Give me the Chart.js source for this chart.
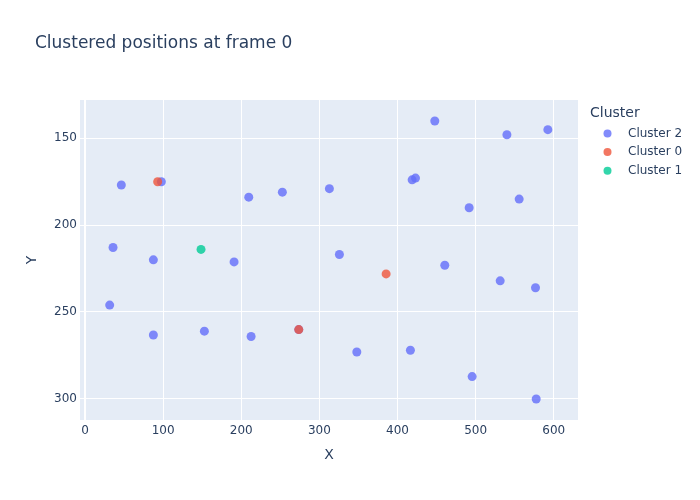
<!DOCTYPE html>
<html>
<head>
<meta charset="utf-8">
<script src="https://cdn.jsdelivr.net/npm/chart.js@4/dist/chart.umd.min.js"></script>
<style>
  html, body { margin: 0; padding: 0; background: #fff; }
  #wrap { width: 700px; height: 500px; position: relative; }
</style>
</head>
<body>
<div id="wrap"><canvas id="c" width="700" height="500"></canvas></div>
<script>
// ---- Data ----
const seriesNames = ["Cluster 2", "Cluster 0", "Cluster 1"];
const seriesColors = ["rgba(99,110,250,0.8)", "rgba(239,85,59,0.8)", "rgba(0,204,150,0.8)"];

const cluster2X = [46.5, 97.7, 209.6, 252.6, 35.9, 87.5, 190.8,
                   447.7, 540, 592.4, 312.8, 418.7, 423, 491.7, 555.7, 325.6,
                   31.6, 87.5, 152.8, 212.6, 273.6,
                   460.5, 531.4, 576.6, 347.9, 416.5, 495.5, 577.5];
const cluster2Y = [176.9, 175, 183.9, 181, 212.9, 220, 221.2,
                   140, 147.9, 145, 179, 173.9, 172.9, 190, 185, 216.9,
                   246.1, 263.3, 261.1, 264.2, 260.2,
                   223.1, 232.1, 236.1, 273.1, 272.1, 287.3, 300.2];
const cluster0X = [93, 273.6, 385.4];
const cluster0Y = [175, 260.2, 228.1];
const cluster1X = [148.5];
const cluster1Y = [214];

const xTicks = [0, 100, 200, 300, 400, 500, 600];
const yTicks = [150, 200, 250, 300];

const titleText = "Clustered positions at frame 0";
const xTitle = "X";
const yTitle = "Y";
const legendTitle = "Cluster";

const FONT = '"DejaVu Sans", Verdana, sans-serif';
const TXT = '#2a3f5f';

function pts(xs, ys) { return xs.map((x, i) => ({ x: x, y: ys[i] })); }
const allX = [cluster2X, cluster0X, cluster1X];
const allY = [cluster2Y, cluster0Y, cluster1Y];

const datasets = seriesNames.map((name, i) => ({
  label: name,
  data: pts(allX[i], allY[i]),
  backgroundColor: seriesColors[i],
  borderWidth: 0,
  pointRadius: 4.5,
  pointHoverRadius: 4.5,
  order: 3 - i
}));

const decor = {
  id: 'decor',
  beforeDraw(chart) {
    const ctx = chart.ctx, a = chart.chartArea;
    ctx.save();
    ctx.fillStyle = '#E5ECF6';
    ctx.fillRect(a.left, a.top, a.right - a.left, a.bottom - a.top);
    ctx.restore();
  },
  afterDraw(chart) {
    const ctx = chart.ctx;
    ctx.save();
    ctx.fillStyle = TXT;
    ctx.textBaseline = 'middle';
    // title
    ctx.font = '17px ' + FONT;
    ctx.textAlign = 'left';
    ctx.fillText(titleText, 35, 44);
    // axis titles
    ctx.font = '14px ' + FONT;
    ctx.textAlign = 'center';
    ctx.fillText(xTitle, 329, 455);
    ctx.save();
    ctx.translate(32, 260);
    ctx.rotate(-Math.PI / 2);
    ctx.fillText(yTitle, 0, 0);
    ctx.restore();
    // legend
    ctx.textAlign = 'left';
    ctx.font = '14px ' + FONT;
    ctx.fillText(legendTitle, 590, 113);
    ctx.font = '12px ' + FONT;
    seriesNames.forEach((n, i) => {
      const y = 133.5 + i * 18.6;
      ctx.beginPath();
      ctx.fillStyle = seriesColors[i];
      ctx.arc(607.5, y, 4, 0, Math.PI * 2);
      ctx.fill();
      ctx.fillStyle = TXT;
      ctx.fillText(n, 628, y);
    });
    ctx.restore();
  }
};

new Chart(document.getElementById('c'), {
  type: 'scatter',
  data: { datasets: datasets },
  options: {
    responsive: false,
    animation: false,
    devicePixelRatio: 1,
    layout: { padding: { top: 100, right: 122, bottom: 0, left: 0 } },
    plugins: {
      legend: { display: false },
      title: { display: false },
      tooltip: { enabled: false }
    },
    scales: {
      x: {
        type: 'linear',
        min: -6.4, max: 631,
        afterBuildTicks: s => { s.ticks = xTicks.map(v => ({ value: v })); },
        afterFit: s => { s.height = 80; },
        border: { display: false },
        grid: {
          color: '#ffffff',
          lineWidth: c => (c.tick && c.tick.value === 0 ? 2 : 1),
          drawTicks: false
        },
        ticks: { color: TXT, font: { family: FONT, size: 12 }, padding: 4, maxRotation: 0 }
      },
      y: {
        type: 'linear',
        reverse: true,
        min: 127.9, max: 312.3,
        afterBuildTicks: s => { s.ticks = yTicks.map(v => ({ value: v })); },
        afterFit: s => { s.width = 80; },
        border: { display: false },
        grid: { color: '#ffffff', lineWidth: 1, drawTicks: false },
        ticks: { color: TXT, font: { family: FONT, size: 12 }, padding: 3 }
      }
    }
  },
  plugins: [decor]
});
</script>
</body>
</html>
